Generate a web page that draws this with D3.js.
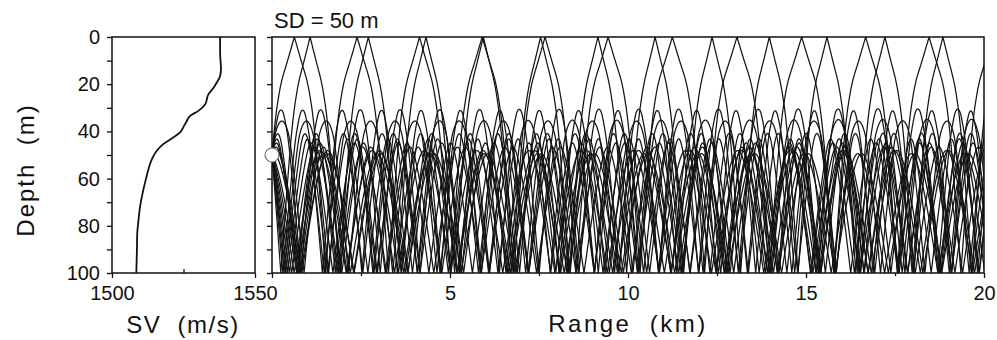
<!DOCTYPE html>
<html>
<head>
<meta charset="utf-8">
<script src="https://cdn.jsdelivr.net/npm/d3@7"></script>
<style>
html,body{margin:0;padding:0;background:#fff;}
svg{display:block;}
text{font-family:"Liberation Sans",Arial,sans-serif;fill:#111;}
</style>
</head>
<body>
<svg id="chart" width="997" height="340"></svg>
<script>
// ---- Data ----
// Sound-velocity profile
const profileDepth = [0, 6.7, 13.7, 16.5, 19.4, 21.5, 24.3, 28.5, 31.3, 33.4, 35.5, 37.6, 40.4, 42.5, 45.3, 48.1, 51.6, 55.8, 60, 65.6, 71.2, 78.3, 83.9, 90.9, 100];
const profileSpeed = [1537.8, 1537.8, 1538.1, 1537.8, 1536.6, 1535.5, 1533.7, 1532.6, 1530.2, 1527.3, 1526.2, 1525.2, 1523.8, 1521.5, 1518, 1515.7, 1514, 1512.8, 1511.9, 1510.8, 1509.9, 1509.2, 1508.8, 1508.7, 1508.5];
// Ray fan (launch angles in degrees, negative = upward, positive = downward)
const sourceDepth = 50;
const upAngles = [-10.35, -8.2, -7, -6, -5, -4, -3, -2, -1];
const downAngles = [1, 2, 3, 4, 5, 6, 7, 8.2, 10.5];
const maxRangeKm = 20;
const waterDepth = 100;
// Axis ticks
const depthTicks = [0, 20, 40, 60, 80, 100];
const depthMinorTicks = [10, 30, 50, 70, 90];
const speedTicks = [1500, 1550];
const speedMinorTicks = [1525];
const rangeTicks = [0, 5, 10, 15, 20];
const rangeMinorTicks = [2.5, 7.5, 12.5, 17.5];
const titleText = "SD = 50 m";

// ---- Layout ----
const svg = d3.select("#chart");
const plotTop = 37, plotBottom = 273;
const svX = d3.scaleLinear().domain([1500, 1550]).range([112, 255]);
const rX = d3.scaleLinear().domain([0, maxRangeKm]).range([272, 984]);
const zY = d3.scaleLinear().domain([0, waterDepth]).range([plotTop, plotBottom]);

// ---- Ray tracing through the read profile (Snell's law) ----
const cOf = d3.scaleLinear().domain(profileDepth).range(profileSpeed).clamp(true);
function gradAt(z) {
  let i = d3.bisectRight(profileDepth, z) - 1;
  i = Math.max(0, Math.min(profileDepth.length - 2, i));
  return (profileSpeed[i + 1] - profileSpeed[i]) / (profileDepth[i + 1] - profileDepth[i]);
}
function traceRay(angDeg) {
  let r = 0, z = sourceDepth, th = angDeg * Math.PI / 180;
  const ds = 1.0; // metres
  const pts = [[0, z]];
  const rMax = maxRangeKm * 1000 + 50;
  let k = 0;
  while (r < rMax) {
    const c1 = cOf(z), g1 = gradAt(z);
    const dth1 = -Math.cos(th) * g1 / c1;
    const thm = th + 0.5 * ds * dth1;
    const zm = z + 0.5 * ds * Math.sin(th);
    const cm = cOf(zm), gm = gradAt(zm);
    const dthm = -Math.cos(thm) * gm / cm;
    r += ds * Math.cos(thm);
    z += ds * Math.sin(thm);
    th += ds * dthm;
    let edge = null;
    if (z < 0) { z = -z; th = -th; edge = 0; }
    if (z > waterDepth) { z = 2 * waterDepth - z; th = -th; edge = waterDepth; }
    k++;
    if (edge !== null) pts.push([r / 1000, edge]);
    else if (k % 6 === 0) pts.push([r / 1000, z]);
  }
  return pts;
}
const rays = upAngles.concat(downAngles).map(traceRay);

// ---- Right panel: rays ----
svg.append("clipPath").attr("id", "clipR").append("rect")
  .attr("x", rX(0)).attr("y", zY(0)).attr("width", rX(maxRangeKm) - rX(0)).attr("height", zY(waterDepth) - zY(0));
const line = d3.line().x(d => rX(d[0])).y(d => zY(d[1]));
svg.append("g").attr("clip-path", "url(#clipR)")
  .selectAll("path").data(rays).join("path")
  .attr("d", line).attr("fill", "none").attr("stroke", "#141414").attr("stroke-width", 1.25);

svg.append("rect").attr("x", rX(0)).attr("y", zY(0)).attr("width", rX(maxRangeKm) - rX(0)).attr("height", zY(waterDepth) - zY(0))
  .attr("fill", "none").attr("stroke", "#111").attr("stroke-width", 1.5);

const styleTicks = g => {
  g.select(".domain").remove();
  g.selectAll("line").attr("stroke", "#111").attr("stroke-width", 1.3);
  g.selectAll("text").attr("font-size", 20).attr("fill", "#111").attr("font-family", "Liberation Sans, Arial, sans-serif");
};
svg.append("g").attr("transform", `translate(${rX(0)},0)`)
  .call(d3.axisLeft(zY).tickValues(depthTicks.concat(depthMinorTicks)).tickSize(5).tickFormat(""))
  .call(styleTicks);
// the range "0" label coincides with the last digit of "1550" in the reference
svg.append("g").attr("transform", `translate(0,${zY(waterDepth)})`)
  .call(d3.axisBottom(rX).tickValues(rangeTicks).tickSize(5).tickPadding(8).tickFormat(d => d === 0 ? "" : d3.format("d")(d)))
  .call(styleTicks);
svg.append("g").attr("transform", `translate(0,${zY(waterDepth)})`)
  .call(d3.axisBottom(rX).tickValues(rangeMinorTicks).tickSize(3).tickFormat(""))
  .call(styleTicks);

svg.append("circle").attr("cx", rX(0)).attr("cy", zY(sourceDepth)).attr("r", 7)
  .attr("fill", "#fff").attr("stroke", "#777").attr("stroke-width", 1.2);

// ---- Left panel: SV profile ----
svg.append("rect").attr("x", svX(1500)).attr("y", zY(0)).attr("width", svX(1550) - svX(1500)).attr("height", zY(waterDepth) - zY(0))
  .attr("fill", "none").attr("stroke", "#111").attr("stroke-width", 1.5);
svg.append("path").datum(d3.zip(profileDepth, profileSpeed))
  .attr("d", d3.line().x(d => svX(d[1])).y(d => zY(d[0])).curve(d3.curveMonotoneY))
  .attr("fill", "none").attr("stroke", "#111").attr("stroke-width", 1.8);

svg.append("g").attr("transform", `translate(${svX(1500)},0)`)
  .call(d3.axisLeft(zY).tickValues(depthTicks).tickSize(5).tickPadding(7).tickFormat(d3.format("d")))
  .call(styleTicks);
svg.append("g").attr("transform", `translate(${svX(1500)},0)`)
  .call(d3.axisLeft(zY).tickValues(depthMinorTicks).tickSize(5).tickFormat(""))
  .call(styleTicks);
svg.append("g").attr("transform", `translate(0,${zY(waterDepth)})`)
  .call(d3.axisBottom(svX).tickValues(speedTicks).tickSize(5).tickPadding(8).tickFormat(d3.format("d")))
  .call(styleTicks);
svg.append("g").attr("transform", `translate(0,${zY(waterDepth)})`)
  .call(d3.axisTop(svX).tickValues(speedMinorTicks).tickSize(4).tickFormat(""))
  .call(styleTicks);

// ---- Titles ----
svg.append("text").attr("x", 274).attr("y", 28).attr("font-size", 22).text(titleText);
svg.append("text").attr("transform", "translate(34,170) rotate(-90)").attr("text-anchor", "middle")
  .attr("font-size", 24).attr("letter-spacing", 2).text("Depth\u00a0\u00a0(m)");
svg.append("text").attr("x", 183).attr("y", 333).attr("text-anchor", "middle")
  .attr("font-size", 24).attr("letter-spacing", 1.5).text("SV\u00a0\u00a0(m/s)");
svg.append("text").attr("x", 628).attr("y", 332).attr("text-anchor", "middle")
  .attr("font-size", 24).attr("letter-spacing", 2.5).text("Range\u00a0\u00a0(km)");
</script>
</body>
</html>
